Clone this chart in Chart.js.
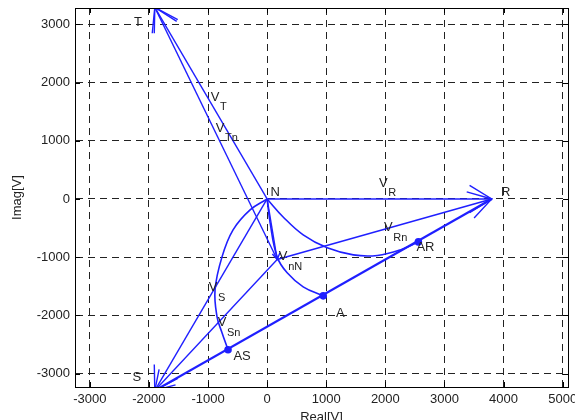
<!DOCTYPE html>
<html>
<head>
<meta charset="utf-8">
<script src="https://cdn.jsdelivr.net/npm/chart.js@4.4.0/dist/chart.umd.min.js"></script>
<style>
  html, body { margin: 0; padding: 0; background: #fff; }
</style>
</head>
<body>
<canvas id="chart" width="575" height="420"></canvas>
<script>
// axis ticks
const xTicks = [-3000, -2000, -1000, 0, 1000, 2000, 3000, 4000, 5000];
const yTicks = [-3000, -2000, -1000, 0, 1000, 2000, 3000];

// phasor end points [re, im] in volts
const ptN = [0, 0];
const ptR = [3800, 0];
const ptS = [-1900, -3291];
const ptT = [-1900, 3291];
const ptn = [170, -1040];
const ptAS = [-661, -2590];
const ptA = [949, -1664];
const ptAR = [2559, -738];

// locus curves
const locusS = [[0, 0], [-288, -189], [-576, -532], [-763, -995], [-881, -1561], [-847, -2024], [-763, -2298], [-661, -2590]];
const locusA = [[0, 0], [51, -412], [169, -995], [339, -1269], [610, -1509], [949, -1664]];
const locusR = [[0, 0], [271, -309], [610, -617], [1017, -840], [1458, -960], [1864, -970], [2254, -875], [2559, -738]];

// text labels: [text, subscript, re, im]
const labels = [
    ['T', '', -2186, 3036],
    ['S', '', -2203, -3070],
    ['R', '', 4034, 120],
    ['N', '', 136, 120],
    ['A', '', 1237, -1973],
    ['AS', '', -424, -2710],
    ['AR', '', 2678, -840],
    ['V', 'T', -881, 1750],
    ['V', 'Tn', -797, 1218],
    ['V', 'R', 1966, 274],
    ['V', 'Rn', 2051, -497],
    ['V', 'nN', 271, -995],
    ['V', 'S', -915, -1527],
    ['V', 'Sn', -763, -2127]
];

const BLUE = '#1f1fff';
const FONT = 'Liberation Sans, Arial, sans-serif';

const toXY = arr => arr.map(p => ({ x: p[0], y: p[1] }));

function vec(from, to, width) {
    return {
        data: toXY([from, to]),
        showLine: true,
        borderColor: BLUE,
        borderWidth: width || 1.4,
        pointRadius: 0,
        arrow: true
    };
}

function curve(pts) {
    const radii = pts.map((p, i) => (i === pts.length - 1 ? 3 : 0));
    return {
        data: toXY(pts),
        showLine: true,
        borderColor: BLUE,
        backgroundColor: BLUE,
        borderWidth: 1.6,
        tension: 0.4,
        pointRadius: radii,
        arrow: false
    };
}

const sideLine = {
    data: toXY([ptS, ptR]),
    showLine: true,
    borderColor: BLUE,
    borderWidth: 2.2,
    pointRadius: 0,
    arrow: false
};

const phasorPlugin = {
    id: 'phasor',
    afterDatasetsDraw(chart) {
        const { ctx, chartArea: a, scales: { x, y } } = chart;
        ctx.save();
        ctx.beginPath();
        ctx.rect(a.left, a.top, a.right - a.left, a.bottom - a.top);
        ctx.clip();
        ctx.strokeStyle = BLUE;
        ctx.lineWidth = 1.4;
        chart.data.datasets.forEach(ds => {
            if (!ds.arrow) return;
            const p = ds.data[ds.data.length - 1];
            const q = ds.data[0];
            const tx = x.getPixelForValue(p.x), ty = y.getPixelForValue(p.y);
            const dx = x.getPixelForValue(q.x) - tx, dy = y.getPixelForValue(q.y) - ty;
            const ang = Math.atan2(dy, dx);
            // head size follows the vector length, like quiver
            const len = Math.min(26, 0.12 * Math.hypot(dx, dy)), spread = 0.55;
            ctx.beginPath();
            ctx.moveTo(tx + len * Math.cos(ang + spread), ty + len * Math.sin(ang + spread));
            ctx.lineTo(tx, ty);
            ctx.lineTo(tx + len * Math.cos(ang - spread), ty + len * Math.sin(ang - spread));
            ctx.stroke();
        });
        ctx.restore();
    },
    afterDraw(chart) {
        const { ctx, chartArea: a, scales: { x, y } } = chart;
        ctx.save();
        // box + inward ticks
        ctx.strokeStyle = '#000';
        ctx.lineWidth = 1;
        ctx.strokeRect(a.left + 0.5, a.top + 0.5, a.right - a.left, a.bottom - a.top);
        ctx.beginPath();
        xTicks.forEach(v => {
            const px = Math.round(x.getPixelForValue(v)) + 0.5;
            ctx.moveTo(px, a.bottom); ctx.lineTo(px, a.bottom - 5);
            ctx.moveTo(px, a.top); ctx.lineTo(px, a.top + 5);
        });
        yTicks.forEach(v => {
            const py = Math.round(y.getPixelForValue(v)) + 0.5;
            ctx.moveTo(a.left, py); ctx.lineTo(a.left + 5, py);
            ctx.moveTo(a.right, py); ctx.lineTo(a.right - 5, py);
        });
        ctx.stroke();

        // labels
        ctx.fillStyle = '#222';
        ctx.textBaseline = 'middle';
        labels.forEach(([txt, sub, re, im]) => {
            const px = x.getPixelForValue(re), py = y.getPixelForValue(im);
            ctx.font = '13px ' + FONT;
            ctx.textAlign = 'center';
            ctx.fillText(txt, px, py);
            if (sub) {
                ctx.font = '11px ' + FONT;
                ctx.textAlign = 'left';
                ctx.fillText(sub, px + 5, py + 10);
            }
        });
        ctx.restore();
    }
};

new Chart(document.getElementById('chart'), {
    type: 'scatter',
    data: {
        datasets: [
            vec(ptN, ptR), vec(ptN, ptS), vec(ptN, ptT),
            vec(ptn, ptR), vec(ptn, ptS), vec(ptn, ptT),
            vec(ptN, ptn),
            sideLine,
            curve(locusS), curve(locusA), curve(locusR)
        ]
    },
    options: {
        responsive: false,
        animation: false,
        devicePixelRatio: 1,
        layout: { padding: { top: 8, right: 7, left: 0, bottom: 0 } },
        plugins: {
            legend: { display: false },
            tooltip: { enabled: false }
        },
        scales: {
            x: {
                type: 'linear',
                min: -3250,
                max: 5090,
                afterBuildTicks: s => { s.ticks = xTicks.map(v => ({ value: v })); },
                afterFit: s => { s.height = 33; s.paddingLeft = 0; s.paddingRight = 0; },
                ticks: { color: '#222', font: { family: FONT, size: 13 }, padding: 5, maxRotation: 0, callback: v => String(v) },
                grid: { color: '#222', lineWidth: 1, drawTicks: false },
                border: { display: true, color: '#000', width: 1, dash: [7, 5] },
                title: { display: true, text: 'Real[V]', color: '#222', font: { family: FONT, size: 13 }, padding: { top: 0, bottom: -5 } }
            },
            y: {
                type: 'linear',
                min: -3230,
                max: 3280,
                afterBuildTicks: s => { s.ticks = yTicks.map(v => ({ value: v })); },
                afterFit: s => { s.width = 75; s.paddingTop = 0; s.paddingBottom = 0; },
                ticks: { color: '#222', font: { family: FONT, size: 13 }, padding: 5, callback: v => String(v) },
                grid: { color: '#222', lineWidth: 1, drawTicks: false },
                border: { display: true, color: '#000', width: 1, dash: [7, 5] },
                title: { display: true, text: 'Imag[V]', color: '#222', font: { family: FONT, size: 13 }, padding: 10 }
            }
        }
    },
    plugins: [phasorPlugin]
});
</script>
</body>
</html>
